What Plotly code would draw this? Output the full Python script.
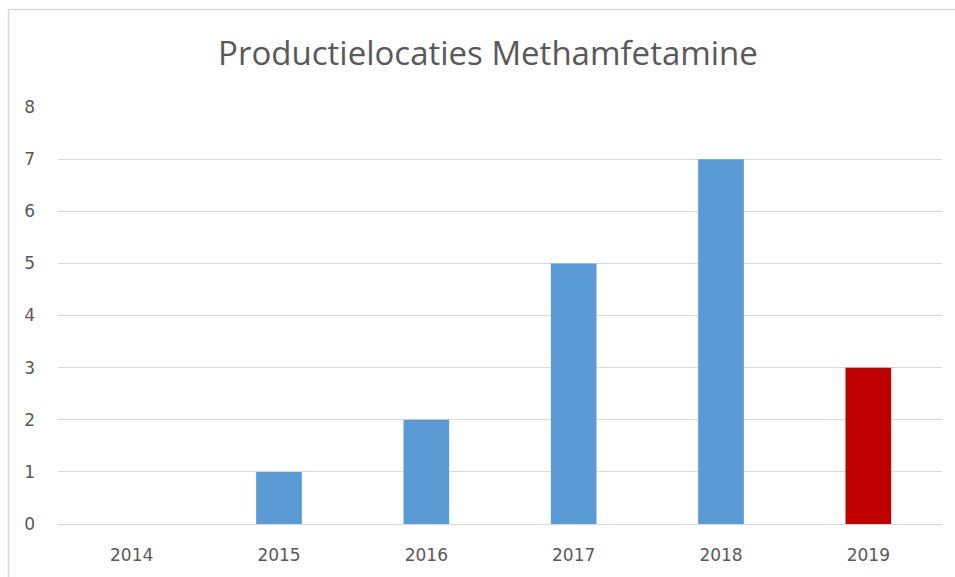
import plotly.graph_objects as go

years = ["2014", "2015", "2016", "2017", "2018", "2019"]
counts = [0, 1, 2, 5, 7, 3]
bar_colors = ["#5B9BD5", "#5B9BD5", "#5B9BD5", "#5B9BD5", "#5B9BD5", "#C00000"]
y_ticks = [0, 1, 2, 3, 4, 5, 6, 7, 8]
title_text = "Productielocaties Methamfetamine"

W, H = 955, 577
L, R, T, B = 58, 13, 107, 53
pw, ph = W - L - R, H - T - B

fig = go.Figure(go.Bar(
    x=years, y=counts, marker=dict(color=bar_colors, line=dict(width=0)),
    width=0.31,
))

def px_to_paper_x(px):
    return (px - L) / pw

def px_to_paper_y(py):
    return (H - B - py) / ph

tick_font = dict(family="DejaVu Sans, sans-serif", size=17, color="#595959")

fig.update_layout(
    width=W, height=H,
    margin=dict(l=L, r=R, t=T, b=B),
    paper_bgcolor="white", plot_bgcolor="white",
    showlegend=False,
    font=dict(family="Open Sans, sans-serif", color="#595959", size=14),
    title=dict(text=title_text, x=0.511, xanchor="center", y=1 - 53 / H, yanchor="middle",
               font=dict(family="Open Sans, sans-serif", size=33, color="#595959")),
    xaxis=dict(showgrid=False, showline=False, ticks="", tickfont=tick_font,
               ticklabelstandoff=19),
    yaxis=dict(range=[0, 8], tickvals=y_ticks, showgrid=True, gridcolor="#D9D9D9", gridwidth=1,
               zeroline=True, zerolinecolor="#D9D9D9", zerolinewidth=1,
               showline=False, ticks="", ticklabelstandoff=22, tickfont=tick_font),
    shapes=[dict(type="rect", xref="paper", yref="paper",
                 x0=px_to_paper_x(8.5), x1=px_to_paper_x(965),
                 y0=px_to_paper_y(590), y1=px_to_paper_y(9.5),
                 line=dict(color="#D9D9D9", width=1.5), fillcolor="rgba(0,0,0,0)", layer="below")],
)

fig.write_html("out.html", config={"displayModeBar": False},
               post_script="document.body.style.margin='0';document.body.style.overflow='hidden';")
